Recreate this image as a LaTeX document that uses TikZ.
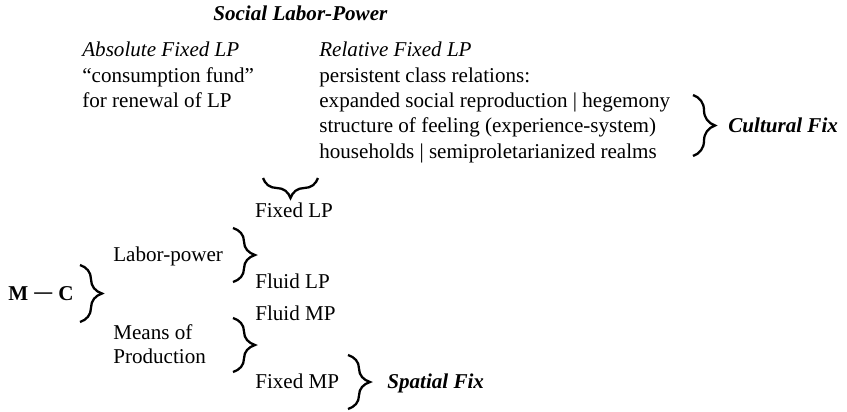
\documentclass[tikz,border=0pt]{standalone}
\usepackage{fontspec}
\setmainfont{Liberation Serif}
\usetikzlibrary{decorations.pathreplacing}

\begin{document}
\begin{tikzpicture}[
    txt/.style ={anchor=base west, inner sep=0pt, font=\fontsize{12}{14.5}\selectfont},
    ital/.style ={txt, font=\fontsize{12}{14.5}\selectfont\itshape},
    fixname/.style ={txt, font=\fontsize{12}{14.5}\selectfont\bfseries\itshape},
    curly/.style ={decorate, decoration={brace, amplitude=0.44cm}, line width=1.3pt}]
   \useasboundingbox (0,0) rectangle (16.94,-8.22);

   \node[fixname] (social) at (4.26,-0.40) {Social Labor-Power};

   \node[ital] (absT) at (1.64,-1.12) {Absolute Fixed LP};
   \node[txt] (absA) at (1.64,-1.64) {“consumption fund”};
   \node[txt] (absB) at (1.64,-2.14) {for renewal of LP};

   \node[ital] (relT) at (6.38,-1.12) {Relative Fixed LP};
   \node[txt] (relA) at (6.38,-1.64) {persistent class relations:};
   \node[txt] (relB) at (6.38,-2.14) {expanded social reproduction | hegemony};
   \node[txt] (relC) at (6.38,-2.64) {structure of feeling (experience-system)};
   \node[txt] (relD) at (6.38,-3.16) {households | semiproletarianized realms};
   \node[fixname] (cultural) at (14.56,-2.64) {Cultural Fix};

   \node[txt, anchor=base] (fixedLP) at (5.88,-4.34) {Fixed LP};
   \node[txt] (labor) at (2.26,-5.22) {Labor-power};
   \node[txt] (fluidLP) at (5.10,-5.76) {Fluid LP};

   \node[txt, font=\fontsize{12}{14.5}\selectfont\bfseries] (mc) at (0.16,-6.00)
      {M\hspace{3.5pt}\raisebox{1pt}{\scalebox{0.85}[1]{—}}\hspace{3.5pt}C};

   \node[txt] (means) at (2.26,-6.78) {Means of};
   \node[txt] (production) at (2.26,-7.26) {Production};
   \node[txt] (fluidMP) at (5.10,-6.40) {Fluid MP};
   \node[txt] (fixedMP) at (5.10,-7.76) {Fixed MP};
   \node[fixname] (spatial) at (7.74,-7.76) {Spatial Fix};

   \coordinate (cfTop) at (13.86,-1.90);
   \coordinate (cfBot) at (13.86,-3.12);
   \coordinate (flpR) at (6.36,-3.56);
   \coordinate (flpL) at (5.26,-3.56);
   \coordinate (lpTop) at (4.66,-4.56);
   \coordinate (lpBot) at (4.66,-5.64);
   \coordinate (mcTop) at (1.60,-5.30);
   \coordinate (mcBot) at (1.60,-6.44);
   \coordinate (mpTop) at (4.66,-6.36);
   \coordinate (mpBot) at (4.66,-7.44);
   \coordinate (sfTop) at (6.96,-7.10);
   \coordinate (sfBot) at (6.96,-8.18);

   \draw[curly] (cfTop) -- (cfBot);
   \draw[curly, decoration={amplitude=0.40cm}] (flpR) -- (flpL);
   \draw[curly] (lpTop) -- (lpBot);
   \draw[curly] (mcTop) -- (mcBot);
   \draw[curly] (mpTop) -- (mpBot);
   \draw[curly] (sfTop) -- (sfBot);
\end{tikzpicture}
\end{document}
